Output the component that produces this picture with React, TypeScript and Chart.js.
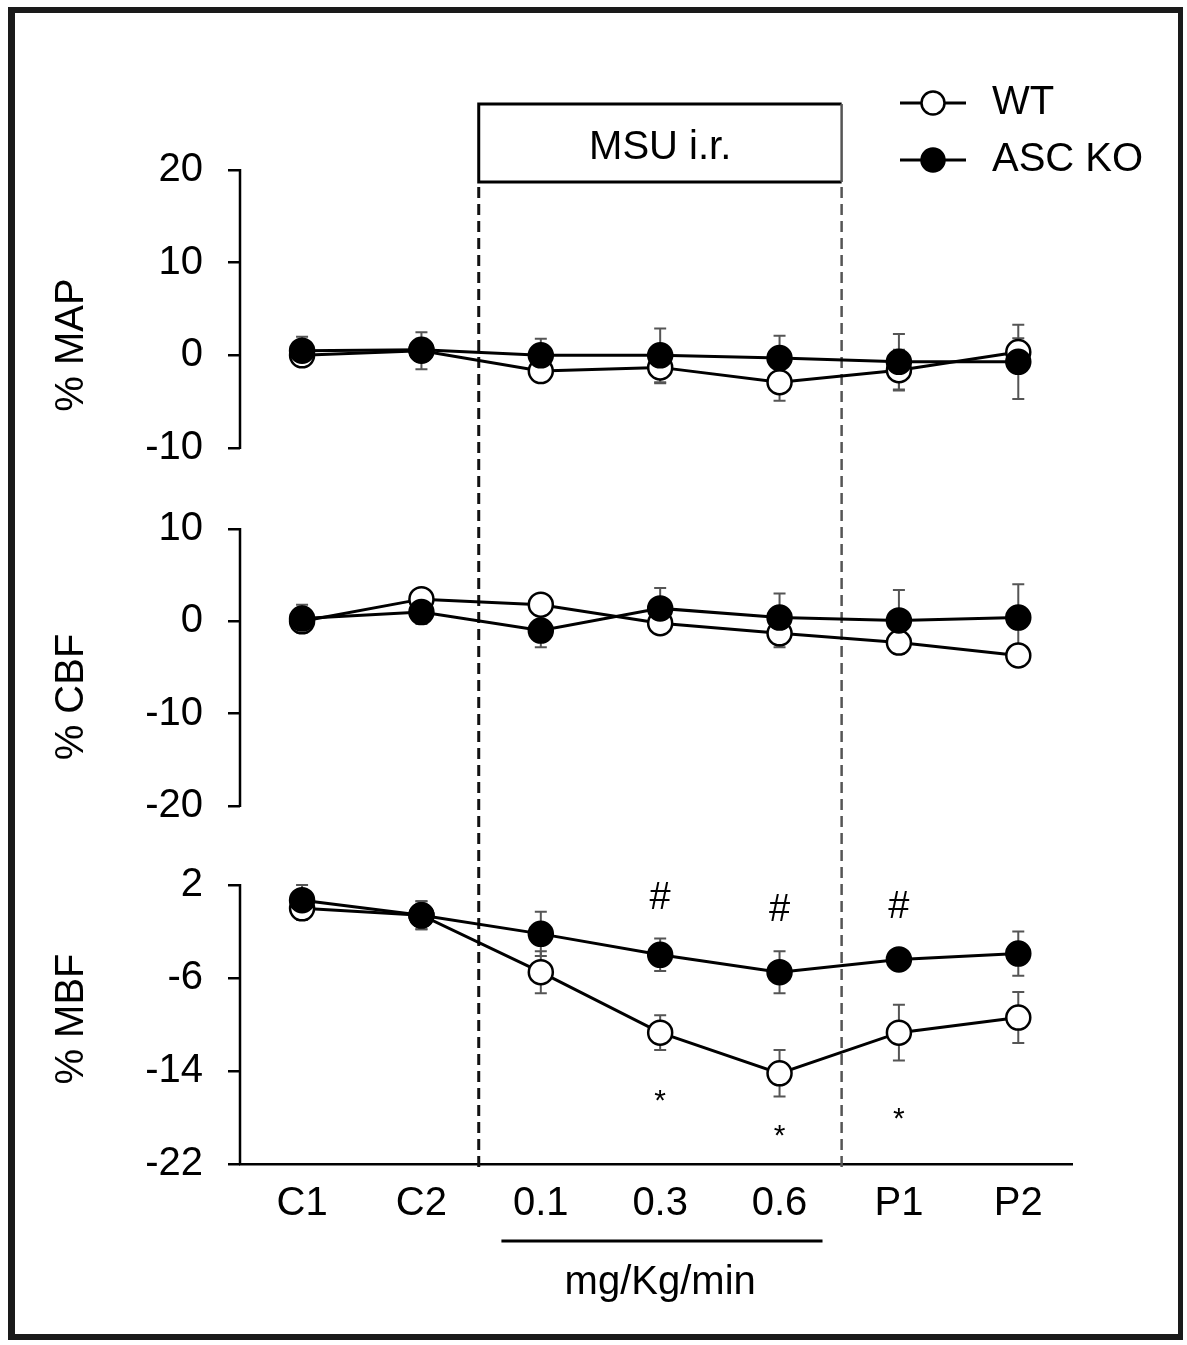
import React, { useEffect, useRef } from "react";
import { Chart, registerables } from "chart.js";

Chart.register(...registerables);

// ---------- data ----------
const categories = ["C1", "C2", "0.1", "0.3", "0.6", "P1", "P2"];

const mapTicks = [-10, 0, 10, 20];
const cbfTicks = [-20, -10, 0, 10];
const mbfTicks = [-22, -14, -6, 2];

const mapWT = [0, 0.5, -1.7, -1.3, -2.9, -1.6, 0.35];
const mapWTErr = [1.0, 2.0, 1.0, 1.7, 2.0, 2.2, 1.5];
const mapKO = [0.5, 0.6, 0, 0, -0.3, -0.7, -0.7];
const mapKOErr = [1.5, 1.2, 1.8, 2.9, 2.4, 3.0, 4.0];

const cbfWT = [0, 2.4, 1.8, -0.2, -1.3, -2.3, -3.7];
const cbfWTErr = [1.0, 0.9, 1.0, 1.0, 1.5, 1.2, 1.0];
const cbfKO = [0.3, 1.0, -1.0, 1.4, 0.4, 0.1, 0.4];
const cbfKOErr = [1.5, 1.3, 1.8, 2.2, 2.6, 3.3, 3.6];

const mbfWT = [0, -0.6, -5.5, -10.7, -14.2, -10.7, -9.4];
const mbfWTErr = [1.0, 1.2, 1.8, 1.5, 2.0, 2.4, 2.2];
const mbfKO = [0.7, -0.6, -2.2, -4.0, -5.5, -4.4, -3.9];
const mbfKOErr = [1.3, 1.2, 1.9, 1.4, 1.8, 0.8, 1.9];

// significance marks (positions in % MBF units)
const hashMarks = [null, null, null, 0.88, -0.15, 0.1, null];
const starMarks = [null, null, null, -15.9, -18.9, -17.4, null];

// MSU infusion period (x index units) and dose bracket
const msuStart = 1.48;
const msuEnd = 4.52;
const doseStart = 1.67;
const doseEnd = 4.36;

const FONT = "'Liberation Sans', Arial, Helvetica, sans-serif";

const pts = (arr: number[]) => arr.map((y, i) => ({ x: i, y }));

const mk = (label: string, data: number[], err: number[], yAxisID: string, filled: boolean) => ({
  label,
  data: pts(data),
  err,
  yAxisID,
  xAxisID: "x",
  borderColor: "#000",
  borderWidth: 3,
  backgroundColor: filled ? "#000" : "#fff",
  pointBackgroundColor: filled ? "#000" : "#fff",
  pointBorderColor: "#000",
  pointBorderWidth: 2.5,
  pointRadius: 12,
  pointHoverRadius: 12,
  tension: 0,
  fill: false,
  order: filled ? 0 : 1,
});

const bgPlugin = {
  id: "bg",
  beforeDraw(chart: any) {
    const ctx = chart.ctx;
    ctx.save();
    ctx.fillStyle = "#fff";
    ctx.fillRect(0, 0, chart.width, chart.height);
    ctx.restore();
  },
};

const axesPlugin = {
  id: "axesLines",
  beforeDatasetsDraw(chart: any) {
    const ctx = chart.ctx;
    const x = chart.scales.x;
    const area = chart.chartArea;
    ctx.save();
    // vertical axis lines per panel
    ctx.strokeStyle = "#000";
    ctx.lineWidth = 2.5;
    [["yMAP", mapTicks], ["yCBF", cbfTicks], ["yMBF", mbfTicks]].forEach(([id, t]: any) => {
      const s = chart.scales[id];
      const y1 = s.getPixelForValue(Math.max(...t));
      const y2 = s.getPixelForValue(Math.min(...t));
      ctx.beginPath();
      ctx.moveTo(area.left, y1 - 1);
      ctx.lineTo(area.left, y2 + 1);
      ctx.stroke();
    });
    // dashed lines
    const xl = x.getPixelForValue(msuStart);
    const xr = x.getPixelForValue(msuEnd);
    ctx.setLineDash([11, 6]);
    ctx.lineWidth = 3;
    ctx.strokeStyle = "#111";
    ctx.beginPath();
    ctx.moveTo(xl, 187);
    ctx.lineTo(xl, area.bottom + 6);
    ctx.stroke();
    ctx.lineWidth = 2.5;
    ctx.strokeStyle = "#555";
    ctx.beginPath();
    ctx.moveTo(xr, 187);
    ctx.lineTo(xr, area.bottom + 6);
    ctx.stroke();
    ctx.setLineDash([]);
    // MSU box
    ctx.lineWidth = 3;
    ctx.strokeStyle = "#000";
    ctx.beginPath();
    ctx.moveTo(xr, 104);
    ctx.lineTo(xl, 104);
    ctx.lineTo(xl, 182);
    ctx.lineTo(xr, 182);
    ctx.stroke();
    ctx.strokeStyle = "#555";
    ctx.lineWidth = 2.5;
    ctx.beginPath();
    ctx.moveTo(xr, 104);
    ctx.lineTo(xr, 182);
    ctx.stroke();
    ctx.fillStyle = "#000";
    ctx.font = `40px ${FONT}`;
    ctx.textAlign = "center";
    ctx.textBaseline = "middle";
    ctx.fillText("MSU i.r.", (xl + xr) / 2, 148);

    // error bars
    ctx.strokeStyle = "#555";
    ctx.lineWidth = 2;
    chart.data.datasets.forEach((ds: any, di: number) => {
      const meta = chart.getDatasetMeta(di);
      const ys = chart.scales[ds.yAxisID];
      meta.data.forEach((pt: any, i: number) => {
        const v = ds.data[i].y;
        const e = ds.err[i];
        const px = pt.x;
        const yt = ys.getPixelForValue(v + e);
        const yb = ys.getPixelForValue(v - e);
        ctx.beginPath();
        ctx.moveTo(px, yt);
        ctx.lineTo(px, yb);
        ctx.moveTo(px - 6, yt);
        ctx.lineTo(px + 6, yt);
        ctx.moveTo(px - 6, yb);
        ctx.lineTo(px + 6, yb);
        ctx.stroke();
      });
    });
    ctx.restore();
  },
  afterDatasetsDraw(chart: any) {
    const ctx = chart.ctx;
    const x = chart.scales.x;
    const ym = chart.scales.yMBF;
    ctx.save();
    ctx.fillStyle = "#000";
    ctx.textAlign = "center";
    ctx.font = `38px ${FONT}`;
    ctx.textBaseline = "middle";
    hashMarks.forEach((v, i) => {
      if (v === null) return;
      ctx.fillText("#", x.getPixelForValue(i), ym.getPixelForValue(v));
    });
    ctx.font = `30px ${FONT}`;
    ctx.textBaseline = "alphabetic";
    starMarks.forEach((v, i) => {
      if (v === null) return;
      ctx.fillText("*", x.getPixelForValue(i), ym.getPixelForValue(v) + 17);
    });

    // dose bracket and unit
    const b1 = x.getPixelForValue(doseStart);
    const b2 = x.getPixelForValue(doseEnd);
    ctx.strokeStyle = "#000";
    ctx.lineWidth = 3;
    ctx.beginPath();
    ctx.moveTo(b1, 1241);
    ctx.lineTo(b2, 1241);
    ctx.stroke();
    ctx.font = `40px ${FONT}`;
    ctx.textBaseline = "middle";
    ctx.fillText("mg/Kg/min", x.getPixelForValue(3), 1283);

    // legend
    const items: [string, boolean, number][] = [
      ["WT", false, 103],
      ["ASC KO", true, 160],
    ];
    items.forEach(([label, filled, y]) => {
      ctx.strokeStyle = "#000";
      ctx.lineWidth = 3;
      ctx.beginPath();
      ctx.moveTo(900, y);
      ctx.lineTo(966, y);
      ctx.stroke();
      ctx.beginPath();
      ctx.arc(933, y, 11.5, 0, Math.PI * 2);
      ctx.fillStyle = filled ? "#000" : "#fff";
      ctx.fill();
      ctx.lineWidth = 2.5;
      ctx.stroke();
      ctx.fillStyle = "#000";
      ctx.textAlign = "left";
      ctx.font = `40px ${FONT}`;
      ctx.fillText(label, 992, y);
    });
    ctx.restore();
  },
  afterDraw(chart: any) {
    const ctx = chart.ctx;
    ctx.save();
    ctx.fillStyle = "#1a1a1a";
    ctx.fillRect(8, 7, 1175, 6);
    ctx.fillRect(8, 7, 7, 1333);
    ctx.fillRect(1178, 7, 5, 1333);
    ctx.fillRect(8, 1334, 1175, 6);
    ctx.restore();
  },
};

const yScale = (
  min: number,
  max: number,
  ticks: number[],
  title: string,
  weight: number,
  stackWeight: number
) => ({
  type: "linear",
  position: "left",
  stack: "panels",
  stackWeight,
  weight,
  min,
  max,
  offset: false,
  afterBuildTicks: (s: any) => {
    s.ticks = ticks.map((v) => ({ value: v }));
  },
  afterFit: (s: any) => {
    s.width = 230;
  },
  ticks: {
    font: { family: FONT, size: 40 },
    color: "#000",
    padding: 25,
    autoSkip: false,
    callback: (v: any) => String(v),
  },
  grid: {
    display: true,
    drawOnChartArea: false,
    drawTicks: true,
    tickLength: 12,
    color: "#000",
    tickColor: "#000",
    lineWidth: 2.5,
    tickWidth: 2.5,
  },
  border: { display: false },
  title: {
    display: true,
    text: title,
    font: { family: FONT, size: 40 },
    color: "#000",
    padding: { top: 38, bottom: 0 },
  },
});

export default function App() {
  const ref = useRef<HTMLCanvasElement>(null);
  useEffect(() => {
    const canvas = ref.current!;
    const chart = new Chart(canvas, {
      type: "line",
      data: {
        datasets: [
          mk("WT", mapWT, mapWTErr, "yMAP", false),
          mk("ASC KO", mapKO, mapKOErr, "yMAP", true),
          mk("WT", cbfWT, cbfWTErr, "yCBF", false),
          mk("ASC KO", cbfKO, cbfKOErr, "yCBF", true),
          mk("WT", mbfWT, mbfWTErr, "yMBF", false),
          mk("ASC KO", mbfKO, mbfKOErr, "yMBF", true),
        ] as any,
      },
      options: {
        responsive: false,
        animation: false,
        devicePixelRatio: 1,
        events: [],
        layout: { padding: { left: 10, right: 115, top: 170, bottom: 121 } },
        plugins: {
          legend: { display: false },
          tooltip: { enabled: false },
          title: { display: false },
        },
        scales: {
          x: {
            type: "linear",
            position: "bottom",
            min: -0.52,
            max: 6.45,
            afterBuildTicks: (s: any) => {
              s.ticks = categories.map((_, i) => ({ value: i }));
            },
            afterFit: (s: any) => {
              s.height = 60;
            },
            ticks: {
              font: { family: FONT, size: 40 },
              color: "#000",
              padding: 16,
              autoSkip: false,
              maxRotation: 0,
              callback: (v: any) => categories[v as number],
            },
            grid: { display: false, drawTicks: false },
            border: { display: true, color: "#000", width: 2.5 },
          },
          yMBF: yScale(-22, 2.95, mbfTicks, "% MBF", 1, 290),
          yCBF: yScale(-27.36, 10.97, cbfTicks, "% CBF", 2, 354),
          yMAP: yScale(-17.77, 20, mapTicks, "% MAP", 3, 350),
        } as any,
      },
      plugins: [bgPlugin, axesPlugin],
    });
    return () => chart.destroy();
  }, []);
  return (
    <div style={{ position: "absolute", left: 0, top: 0, width: 1187, height: 1345, background: "#fff" }}>
      <canvas ref={ref} width={1187} height={1345} style={{ display: "block", width: 1187, height: 1345 }} />
    </div>
  );
}
